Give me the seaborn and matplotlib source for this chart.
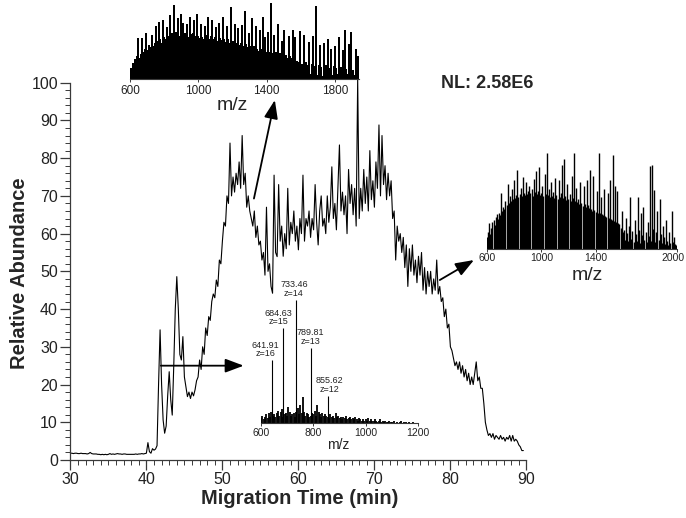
import numpy as np
import matplotlib
matplotlib.use("Agg")
import matplotlib.pyplot as plt
import matplotlib.transforms as mtransforms
import seaborn as sns
from matplotlib.ticker import MultipleLocator

# ------------------------------------------------------------------ data
TIME_START = 30.0          # min
TIME_STEP = 0.2            # min, acquisition grid
SIGNAL = [
    1.8, 1.8, 1.7, 1.8, 1.8, 1.7, 1.7, 1.8, 1.7, 1.7,
    1.7, 1.6, 1.7, 2.0, 1.7, 1.6, 1.6, 1.6, 1.5, 1.5,
    1.4, 1.5, 1.4, 1.5, 1.4, 1.5, 1.7, 1.5, 1.6, 1.5,
    1.6, 1.7, 1.6, 1.6, 1.5, 1.6, 1.6, 1.5, 1.5, 1.5,
    1.5, 1.5, 1.5, 1.6, 1.5, 1.6, 1.6, 1.7, 1.6, 1.7,
    1.8, 4.6, 2.2, 1.8, 3.0, 2.6, 2.9, 3.8, 20.0, 34.5,
    20.0, 10.6, 7.1, 9.0, 17.0, 23.4, 16.0, 11.9, 25.0, 40.0,
    48.6, 40.0, 28.0, 26.5, 32.7, 22.0, 19.4, 16.8, 18.0, 16.3,
    18.0, 17.0, 18.6, 21.0, 22.0, 26.5, 24.0, 30.0, 28.0, 35.0,
    33.0, 38.0, 37.0, 42.0, 44.0, 43.0, 47.7, 46.0, 53.0, 52.0,
    58.0, 63.0, 62.0, 70.0, 68.0, 84.0, 70.0, 75.0, 71.0, 76.0,
    73.0, 79.0, 72.0, 86.0, 73.0, 76.0, 67.0, 70.0, 66.0, 64.0,
    62.0, 66.0, 59.0, 62.0, 57.0, 58.0, 53.0, 55.0, 49.0, 67.0,
    50.0, 52.0, 46.0, 44.2, 75.5, 55.0, 53.9, 73.0, 58.0, 62.0,
    54.0, 60.0, 56.0, 72.0, 57.0, 63.0, 60.0, 66.0, 58.0, 62.0,
    55.7, 64.0, 60.0, 75.5, 58.0, 64.0, 62.0, 66.0, 59.0, 64.0,
    61.0, 73.0, 63.0, 57.0, 66.0, 70.0, 62.0, 64.0, 60.0, 70.0,
    63.0, 67.0, 77.7, 64.0, 68.0, 61.0, 72.0, 83.5, 66.0, 71.0,
    65.0, 70.0, 60.0, 77.0, 68.0, 73.0, 65.0, 72.0, 62.0, 101.0,
    64.0, 72.0, 66.0, 77.0, 68.0, 75.0, 66.0, 82.0, 69.0, 74.0,
    67.0, 79.0, 72.0, 88.8, 70.0, 86.0, 73.0, 78.0, 69.0, 76.0,
    70.0, 74.0, 64.0, 66.0, 53.0, 62.0, 58.0, 60.0, 55.0, 59.0,
    51.0, 57.0, 46.0, 56.0, 50.0, 57.0, 49.0, 53.0, 47.0, 54.0,
    49.0, 55.0, 45.0, 51.0, 44.0, 50.0, 46.0, 50.0, 44.0, 48.0,
    45.0, 53.0, 44.0, 46.0, 42.0, 43.0, 38.0, 40.0, 35.0, 36.0,
    30.0, 29.0, 27.0, 25.0, 26.0, 24.0, 26.0, 23.0, 25.0, 22.0,
    24.0, 21.0, 23.0, 20.0, 22.0, 20.0, 23.0, 26.0, 21.0, 22.0,
    19.0, 19.0, 15.0, 10.0, 8.0, 6.5, 7.0, 6.0, 7.0, 5.5,
    6.5, 6.0, 5.5, 6.5, 5.5, 6.0, 5.0, 6.0, 5.5, 6.5,
    5.0, 6.5, 5.0, 5.5, 5.0, 4.0, 3.5, 2.5, 2.5,
]
TIME = np.round(TIME_START + TIME_STEP * np.arange(len(SIGNAL)), 1)

X_TICKS = [30, 40, 50, 60, 70, 80, 90]
Y_TICKS = [0, 10, 20, 30, 40, 50, 60, 70, 80, 90, 100]
X_LABEL = "Migration Time (min)"
Y_LABEL = "Relative Abundance"
NL_TEXT = "NL: 2.58E6"

# top inset mass spectrum (relative intensity, m/z grid 600 + 8 i)
TOP_MZ_START, TOP_MZ_STEP = 600, 8
TOP_INT = [
    10, 14, 21, 12, 26, 30, 54, 28, 33, 54,
    36, 40, 60, 38, 45, 42, 58, 44, 47, 70,
    50, 75, 52, 48, 78, 55, 53, 69, 56, 84,
    58, 60, 98, 56, 62, 80, 57, 85, 59, 74,
    60, 58, 72, 55, 82, 59, 61, 77, 56, 85,
    57, 54, 73, 55, 52, 70, 58, 82, 53, 56,
    78, 52, 55, 69, 50, 74, 54, 51, 81, 53,
    49, 70, 52, 48, 95, 50, 46, 72, 47, 67,
    45, 48, 71, 44, 89, 46, 42, 60, 44, 80,
    41, 43, 70, 40, 37, 64, 39, 82, 38, 55,
    36, 62, 35, 100, 34, 58, 33, 36, 72, 32,
    34, 50, 30, 64, 31, 28, 57, 30, 27, 65,
    26, 55, 24, 22, 63, 8, 20, 58, 7, 22,
    18, 49, 6, 20, 56, 17, 96, 5, 19, 45,
    16, 4, 48, 18, 6, 52, 15, 40, 5, 17,
    44, 14, 7, 55, 16, 5, 38, 65, 13, 6,
    46, 15, 62, 12, 5, 40, 14, 30,
]
TOP_TICKS = [600, 1000, 1400, 1800]

# right inset mass spectrum (m/z grid 600 + 8 i)
RIGHT_MZ_START, RIGHT_MZ_STEP = 600, 8
RIGHT_INT = [
    13, 18, 27, 16, 22, 28, 30, 25, 33, 36,
    31, 38, 35, 58, 40, 44, 42, 50, 46, 68,
    48, 55, 50, 62, 52, 72, 53, 56, 82, 54,
    57, 64, 55, 75, 58, 56, 70, 57, 60, 66,
    58, 62, 55, 73, 59, 81, 57, 60, 85, 56,
    58, 66, 55, 78, 57, 100, 56, 62, 54, 70,
    55, 59, 53, 74, 56, 52, 72, 54, 58, 88,
    53, 94, 55, 51, 68, 52, 57, 50, 76, 53,
    100, 50, 64, 49, 52, 47, 70, 48, 45, 66,
    47, 44, 72, 46, 43, 82, 42, 40, 76, 41,
    39, 60, 38, 100, 37, 54, 36, 35, 62, 34,
    33, 58, 32, 72, 31, 30, 98, 29, 66, 28,
    60, 27, 26, 22, 40, 18, 20, 9, 32, 17,
    8, 24, 54, 10, 19, 7, 30, 16, 8, 54,
    20, 6, 38, 15, 44, 9, 18, 7, 28, 14,
    86, 8, 88, 21, 61, 7, 18, 40, 9, 52,
    16, 6, 24, 12, 5, 30, 8, 4, 18, 6,
    40, 7, 12, 5, 4,
]
RIGHT_TICKS = [600, 1000, 1400, 2000]

# bottom inset mass spectrum: background (m/z grid 600 + 5 i) and labelled peaks
BOT_MZ_START, BOT_MZ_STEP = 600, 5
BOT_BG = [
    4, 6, 3, 5, 7, 4, 8, 5, 9, 6,
    7, 5, 8, 10, 6, 9, 11, 5, 7, 8,
    6, 13, 9, 6, 7, 8, 5, 9, 12, 7,
    15, 8, 21, 9, 6, 8, 7, 5, 6, 8,
    7, 10, 6, 15, 9, 7, 5, 8, 6, 7,
    6, 5, 4, 7, 5, 6, 4, 8, 5, 6,
    4, 5, 3, 5, 4, 6, 3, 4, 5, 3,
    4, 3, 5, 3, 2, 4, 3, 2, 3, 2,
    3, 2, 4, 2, 3, 2, 2, 3, 2, 1,
    2, 3, 1, 2, 1, 2, 1, 1, 2, 1,
    1, 0, 2, 0, 1, 0, 1, 2, 0, 1,
    0, 1, 0, 1, 0, 0, 1, 0, 0, 0,
]
PEAK_MZ = [641.91, 684.63, 733.46, 789.81, 855.62]
PEAK_INT = [51, 77, 100, 61, 22]
PEAK_Z = [16, 15, 14, 13, 12]
BOT_TICKS = [600, 800, 1000, 1200]
MZ_LABEL = "m/z"

# ------------------------------------------------------------------ style
sns.set_style("ticks")
plt.rcParams["font.family"] = ["Liberation Sans", "DejaVu Sans"]

W, H = 686, 518
fig = plt.figure(figsize=(W / 100, H / 100), dpi=100)


def px_rect(l, t, r, b):
    return [l / W, 1 - b / H, (r - l) / W, (b - t) / H]


SPINE = "#3a3a3a"

# ------------------------------------------------------------------ main electropherogram
ax = fig.add_axes(px_rect(70.4, 82.7, 526.4, 460))
sns.lineplot(x=TIME, y=SIGNAL, ax=ax, color="black", linewidth=0.8, estimator=None)
for ln in ax.lines:
    ln.set_clip_on(False)
ax.set_xlim(30, 90)
ax.set_ylim(0, 100)
ax.set_xticks(X_TICKS)
ax.set_yticks(Y_TICKS)
ax.xaxis.set_minor_locator(MultipleLocator(1))
ax.yaxis.set_minor_locator(MultipleLocator(2))
sns.despine(ax=ax)
for s in ("left", "bottom"):
    ax.spines[s].set_color(SPINE)
    ax.spines[s].set_linewidth(0.9)
ax.tick_params(which="major", direction="out", length=7, width=0.9, color=SPINE,
               labelsize=11.5, pad=2, labelcolor="#222222")
ax.tick_params(which="minor", direction="out", length=3.5, width=0.7, color=SPINE)
ax.set_xlabel(X_LABEL, fontsize=14.5, fontweight="bold")
ax.set_ylabel(Y_LABEL, fontsize=14.5, fontweight="bold")
ax.xaxis.set_label_coords(300 / W, 1 - 489 / H, transform=fig.transFigure)
ax.yaxis.set_label_coords(29 / W, 1 - 273 / H, transform=fig.transFigure)
ax.patch.set_alpha(0)

fig.text(487 / W, 1 - 84 / H, NL_TEXT, ha="center", va="center",
         fontsize=13, fontweight="bold")

# arrows (main-axes data coordinates)
arrow_kw = dict(arrowstyle="-|>,head_length=0.8,head_width=0.3", color="black",
                lw=1.3, shrinkA=0, shrinkB=0, mutation_scale=14)
ax.annotate("", xy=(56.9, 95.4), xytext=(54.15, 69.3), arrowprops=arrow_kw,
            annotation_clip=False)
ax.annotate("", xy=(83.1, 53.0), xytext=(78.6, 47.7), arrowprops=arrow_kw,
            annotation_clip=False)
ax.annotate("", xy=(52.8, 25.0), xytext=(41.9, 25.0), arrowprops=arrow_kw,
            annotation_clip=False)


# ------------------------------------------------------------------ insets
def stick_inset(rect, xlim, ticks, tick_fs, pad):
    a = fig.add_axes(px_rect(*rect))
    a.set_xlim(*xlim)
    a.set_ylim(0, 100)
    a.patch.set_alpha(0)
    for s in ("top", "right", "left"):
        a.spines[s].set_visible(False)
    a.spines["bottom"].set_linewidth(0.8)
    a.spines["bottom"].set_color(SPINE)
    a.set_yticks([])
    a.set_xticks(ticks)
    a.set_xticklabels([str(t) for t in ticks])
    a.tick_params(axis="x", length=2, width=0.7, pad=pad, labelsize=tick_fs,
                  color=SPINE, labelcolor="#222222")
    return a


# top
ax_t = stick_inset((130, 3, 359, 79), (600, 1940), TOP_TICKS, 8.5, 2)
top_mz = TOP_MZ_START + TOP_MZ_STEP * np.arange(len(TOP_INT))
ax_t.vlines(top_mz, 0, TOP_INT, color="black", lw=1.2, antialiased=False)
fig.text(232.5 / W, 1 - 105 / H, MZ_LABEL, ha="center", va="center", fontsize=14)

# right
ax_r = stick_inset((487, 153, 677, 249), (600, 2000), RIGHT_TICKS, 7.5, 1)
right_mz = RIGHT_MZ_START + RIGHT_MZ_STEP * np.arange(len(RIGHT_INT))
ax_r.vlines(right_mz, 0, RIGHT_INT, color="black", lw=1.0)
fig.text(587.5 / W, 1 - 275 / H, MZ_LABEL, ha="center", va="center", fontsize=14)
# keep the last tick label ("2000") inside the figure edge
fig.canvas.draw()
last_lbl = ax_r.get_xticklabels()[-1]
last_lbl.set_horizontalalignment("right")
last_lbl.set_transform(last_lbl.get_transform()
                       + mtransforms.ScaledTranslation(8 / 100, 0, fig.dpi_scale_trans))

# bottom
ax_b = stick_inset((261, 300, 418, 423), (600, 1200), BOT_TICKS, 7.5, 1.5)
bot_mz = BOT_MZ_START + BOT_MZ_STEP * np.arange(len(BOT_BG))
ax_b.vlines(bot_mz, 0, BOT_BG, color="black", lw=1.3)
ax_b.vlines(PEAK_MZ, 0, PEAK_INT, color="black", lw=0.8)
label_dx = [-4.5, -3.2, -1.5, 0, 1.3]   # points, label offsets
for mz, h, z, dx in zip(PEAK_MZ, PEAK_INT, PEAK_Z, label_dx):
    ax_b.annotate(f"{mz:.2f}\nz={z}", xy=(mz, h), xytext=(dx, 1.5),
                  textcoords="offset points", ha="center", va="bottom",
                  fontsize=6.5, linespacing=0.95, color="#222222",
                  annotation_clip=False)
fig.text(338 / W, 1 - 445 / H, MZ_LABEL, ha="center", va="center", fontsize=10)

fig.savefig("out.png", dpi=100)
